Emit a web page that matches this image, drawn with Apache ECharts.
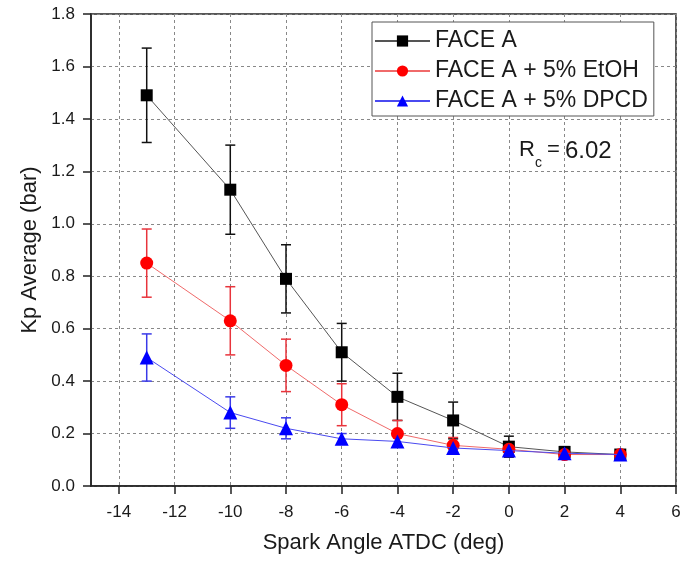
<!DOCTYPE html>
<html>
<head>
<meta charset="utf-8">
<script src="https://cdn.jsdelivr.net/npm/echarts@6/dist/echarts.min.js"></script>
<style>
  html, body { margin: 0; padding: 0; background: #fff; }
  #chart { width: 698px; height: 564px; }
</style>
</head>
<body>
<div id="chart"></div>
<script>
// spark angle (deg ATDC)
const angles = [-13, -10, -8, -6, -4, -2, 0, 2, 4];

// Kp average (bar) and error half-widths
const faceA = [1.49, 1.13, 0.79, 0.51, 0.34, 0.25, 0.15, 0.13, 0.12];
const faceAErr = [0.18, 0.17, 0.13, 0.11, 0.09, 0.07, 0.04, 0.02, 0.01];
const etoh = [0.85, 0.63, 0.46, 0.31, 0.20, 0.155, 0.14, 0.12, 0.12];
const etohErr = [0.13, 0.13, 0.10, 0.08, 0.05, 0.03, 0.02, 0.01, 0.01];
const dpcd = [0.49, 0.28, 0.22, 0.18, 0.17, 0.145, 0.135, 0.125, 0.12];
const dpcdErr = [0.09, 0.06, 0.04, 0.02, 0.02, 0.02, 0.02, 0.01, 0.01];

const xTicks = [-14, -12, -10, -8, -6, -4, -2, 0, 2, 4, 6];
const seriesNames = ['FACE A', 'FACE A + 5% EtOH', 'FACE A + 5% DPCD'];

const font = 'Liberation Sans, Arial, sans-serif';
const textColor = '#1a1a1a';

const chart = echarts.init(document.getElementById('chart'));

function pairs(vals) {
  return angles.map((a, i) => [a, vals[i]]);
}
function errData(vals, errs) {
  return angles.map((a, i) => [a, vals[i], errs[i]]);
}

// vertical error bar with caps
function errorSeries(name, vals, errs, color) {
  return {
    name: name,
    type: 'custom',
    z: 3,
    data: errData(vals, errs),
    encode: { x: 0, y: 1 },
    renderItem(params, api) {
      const x = api.value(0);
      const y = api.value(1);
      const e = api.value(2);
      const lo = api.coord([x, y - e]);
      const hi = api.coord([x, y + e]);
      const w = 5;
      const style = { stroke: color, lineWidth: 1.5 };
      return {
        type: 'group',
        children: [
          { type: 'line', shape: { x1: lo[0], y1: lo[1], x2: hi[0], y2: hi[1] }, style: style },
          { type: 'line', shape: { x1: lo[0] - w, y1: lo[1], x2: lo[0] + w, y2: lo[1] }, style: style },
          { type: 'line', shape: { x1: hi[0] - w, y1: hi[1], x2: hi[0] + w, y2: hi[1] }, style: style }
        ]
      };
    }
  };
}

const option = {
  animation: false,
  backgroundColor: '#fff',
  textStyle: { fontFamily: font },
  grid: {
    left: 91, right: 22, top: 14, bottom: 78,
    show: true, borderColor: '#222', borderWidth: 1.5
  },
  legend: {
    orient: 'vertical',
    left: 372, top: 22,
    data: seriesNames,
    itemWidth: 55, itemHeight: 14, itemGap: 6,
    padding: [7, 6, 3, 2],
    borderColor: '#555', borderWidth: 1,
    backgroundColor: '#fff',
    textStyle: { fontSize: 23, color: textColor, fontFamily: font, lineHeight: 24 }
  },
  xAxis: {
    type: 'value',
    min: -15, max: 6,
    name: 'Spark Angle ATDC (deg)',
    nameLocation: 'middle',
    nameGap: 46,
    nameTextStyle: { fontSize: 22, color: textColor, fontFamily: font },
    axisLine: { onZero: false, lineStyle: { color: '#222', width: 1.5 } },
    axisTick: { customValues: xTicks, length: 8, inside: false, lineStyle: { color: '#222', width: 1.5 } },
    axisLabel: { customValues: xTicks, fontSize: 17, color: textColor, margin: 18, fontFamily: font },
    splitLine: { show: true, lineStyle: { color: '#888', type: [3, 3], width: 1 } }
  },
  yAxis: {
    type: 'value',
    min: 0, max: 1.8, interval: 0.2,
    name: 'Kp Average (bar)',
    nameLocation: 'middle',
    nameGap: 46,
    nameTextStyle: { fontSize: 22, color: textColor, fontFamily: font },
    axisLine: { show: true, onZero: false, lineStyle: { color: '#222', width: 1.5 } },
    axisTick: { show: true, length: 8, lineStyle: { color: '#222', width: 1.5 } },
    axisLabel: { fontSize: 17, color: textColor, margin: 16, fontFamily: font, formatter: v => v.toFixed(1) },
    splitLine: { show: true, lineStyle: { color: '#888', type: [3, 3], width: 1 } }
  },
  graphic: [
    { type: 'text', left: 519, top: 139, style: { text: 'R', fontSize: 22, fill: textColor, fontFamily: font } },
    { type: 'text', left: 535, top: 156, style: { text: 'c', fontSize: 14, fill: textColor, fontFamily: font } },
    { type: 'text', left: 547, top: 139, style: { text: '=', fontSize: 22, fill: textColor, fontFamily: font } },
    { type: 'text', left: 565, top: 139, style: { text: '6.02', fontSize: 24, fill: textColor, fontFamily: font } }
  ],
  series: [
    errorSeries('errA', faceA, faceAErr, '#111'),
    errorSeries('errE', etoh, etohErr, '#e8343c'),
    errorSeries('errD', dpcd, dpcdErr, '#3a3ae8'),
    {
      name: seriesNames[0], type: 'line', z: 5,
      data: pairs(faceA),
      symbol: 'rect', symbolSize: 12,
      itemStyle: { color: '#000' },
      lineStyle: { color: '#555', width: 1 }
    },
    {
      name: seriesNames[1], type: 'line', z: 5,
      data: pairs(etoh),
      symbol: 'circle', symbolSize: 13,
      itemStyle: { color: '#ff0000' },
      lineStyle: { color: '#f06a6a', width: 1 }
    },
    {
      name: seriesNames[2], type: 'line', z: 6,
      data: pairs(dpcd),
      symbol: 'triangle', symbolSize: 14,
      itemStyle: { color: '#0000ff' },
      lineStyle: { color: '#4a4af0', width: 1 }
    }
  ]
};

chart.setOption(option);
</script>
</body>
</html>
